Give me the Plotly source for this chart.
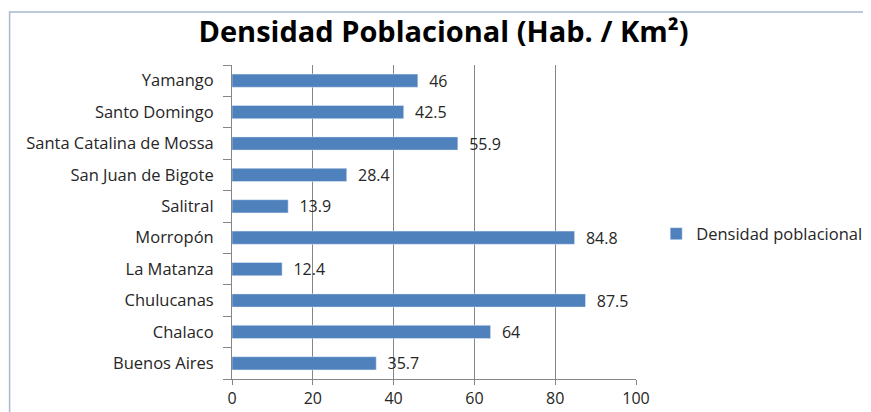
import plotly.graph_objects as go

distritos = ["Buenos Aires", "Chalaco", "Chulucanas", "La Matanza", "Morropón",
             "Salitral", "San Juan de Bigote", "Santa Catalina de Mossa",
             "Santo Domingo", "Yamango"]
densidad = [35.7, 64, 87.5, 12.4, 84.8, 13.9, 28.4, 55.9, 42.5, 46]
x_ticks = [0, 20, 40, 60, 80, 100]

fig = go.Figure()
fig.add_trace(go.Bar(
    y=distritos, x=densidad, orientation="h",
    name="Densidad poblacional",
    marker=dict(color="#4F81BD"),
    text=[f"\u00a0\u00a0{v:g}" for v in densidad],
    textposition="outside",
    constraintext="none",
    textfont=dict(size=16, color="#262626"),
    cliponaxis=False,
    showlegend=True,
))

# page body adds an 8px offset, so margins are shifted to compensate
fig.update_layout(
    width=871, height=412,
    margin=dict(l=224, r=243, t=57, b=41, autoexpand=False),
    paper_bgcolor="white", plot_bgcolor="white",
    font=dict(family="Open Sans, sans-serif", size=16, color="#262626"),
    bargap=0.58,
    title=dict(text="<b>Densidad Poblacional (Hab. / Km²)</b>",
               x=0.5, xanchor="center", y=0.942, yanchor="middle",
               font=dict(size=29, color="black")),
    legend=dict(x=1.05, y=0.462, xanchor="left", yanchor="middle",
                font=dict(size=16.5, color="#262626"), bgcolor="rgba(0,0,0,0)"),
    xaxis=dict(range=[0, 100], tickvals=x_ticks, showgrid=True,
               gridcolor="#868686", gridwidth=1, showline=True,
               linecolor="#868686", ticks="outside", ticklen=5,
               tickcolor="#868686", zeroline=False, automargin=False,
               tickfont=dict(size=16, color="#262626")),
    yaxis=dict(categoryorder="array", categoryarray=distritos,
               showline=True, linecolor="#868686", ticks="outside",
               tickson="boundaries", ticklen=8, tickcolor="#868686",
               automargin=False, ticklabelstandoff=14,
               tickfont=dict(size=16.5, color="#262626")),
    shapes=[dict(type="rect", xref="paper", yref="paper",
                 x0=-0.5505, x1=1.7, y0=-0.5, y1=1.169,
                 line=dict(color="#A8B8CE", width=1.5))],
)

fig.write_html("out.html")
